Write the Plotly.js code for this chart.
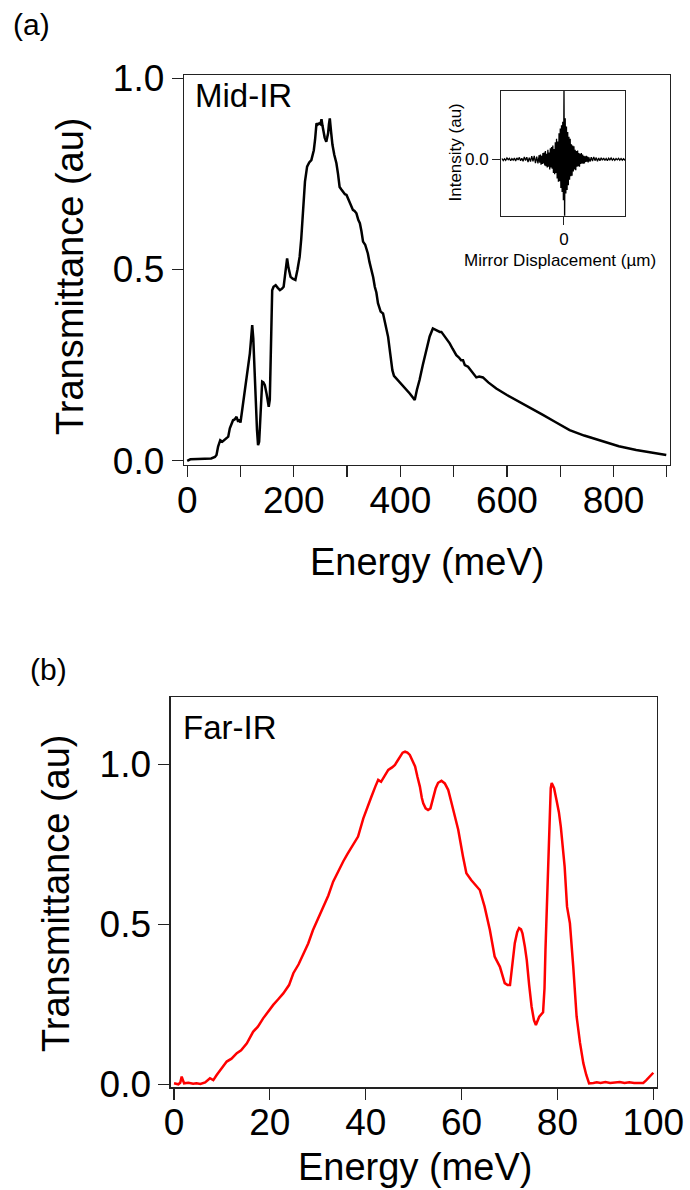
<!DOCTYPE html>
<html>
<head>
<meta charset="utf-8">
<script src="https://cdn.plot.ly/plotly-3.0.1.min.js"></script>
<style>html,body{margin:0;padding:0;background:#fff;}#chart{width:690px;height:1190px;}</style>
</head>
<body>
<div id="chart"></div>
<script>
// ---- Mid-IR transmittance (panel a) ----
const midEnergy = [0,6,20,45,52,55,58,62,66,70,74,77,80,83,86,89,92.6,95.7,98,100,104,108,111,114,117.6,120,122,124,125.5,127,129,131,133,135,136.5,138,140.7,143,145.7,149,153,155,156,158,159.5,162,166,170,174,178,181,184,187.5,190,194,198,203,207,211,214,217.5,221,225,229,233,237.6,240,242.6,245,247.5,250,252,254,255,258,261,263,264.4,266,267.6,270,272.6,276,280,283,286,289,292.6,296,299,302,305,308,311,314,317.6,321,324,327,330,334,339,342,345.8,349,352,355,358,361,363,367.5,371,374,377,381,385,388,392.6,398,405,411,417.6,422,427,431,436,442,449,455,461,466,470,474,477,482,487,492.6,498,505,510,514,517.6,521,527,531,536,542.6,548,555,565,580,600,624,645,667.5,690,717.6,745,780,810,842.6,870,899];
const midTrans = [0,0.004,0.005,0.006,0.01,0.015,0.037,0.054,0.05,0.054,0.058,0.063,0.085,0.095,0.106,0.108,0.115,0.102,0.108,0.1,0.141,0.175,0.202,0.24,0.281,0.32,0.355,0.32,0.26,0.2,0.15,0.08,0.041,0.05,0.09,0.15,0.207,0.205,0.198,0.175,0.141,0.16,0.237,0.35,0.446,0.455,0.459,0.452,0.446,0.45,0.455,0.49,0.529,0.505,0.481,0.476,0.473,0.5,0.533,0.58,0.656,0.73,0.769,0.78,0.786,0.812,0.84,0.882,0.879,0.882,0.88,0.893,0.875,0.865,0.845,0.834,0.845,0.856,0.88,0.895,0.86,0.826,0.8,0.778,0.75,0.716,0.71,0.703,0.697,0.695,0.685,0.673,0.667,0.656,0.653,0.647,0.63,0.621,0.6,0.573,0.565,0.542,0.52,0.499,0.48,0.455,0.44,0.412,0.4,0.39,0.385,0.36,0.34,0.324,0.28,0.237,0.222,0.215,0.207,0.198,0.188,0.176,0.168,0.159,0.185,0.211,0.25,0.29,0.325,0.346,0.342,0.338,0.337,0.337,0.328,0.317,0.307,0.293,0.276,0.27,0.263,0.263,0.25,0.246,0.238,0.228,0.218,0.22,0.218,0.205,0.189,0.172,0.154,0.137,0.12,0.102,0.08,0.066,0.05,0.038,0.028,0.021,0.015];

// ---- Far-IR transmittance (panel b) ----
const farEnergy = [0,0.9,1.3,1.6,2.1,3,4,4.7,5.5,6.5,7.5,8.2,8.9,10,11,12,13.1,14,15.2,16.5,17.5,18.6,19.5,20.7,21.7,22.8,24,24.9,26,27,28,29,30,31.1,32.2,33.2,34.2,35.3,36.2,37.1,38.4,39.5,40.3,41.2,42,42.6,43.2,43.7,44.7,45.5,46.1,46.6,47.1,47.7,48.2,48.7,49.2,49.8,50.3,50.8,51.3,51.7,52,52.5,53,53.5,54.1,54.6,55.1,55.8,56.5,57.2,57.8,58.3,59.3,60.3,61,62,62.9,63.8,64.8,65.9,66.9,68,69,69.6,70.1,70.5,71.1,71.6,72,72.4,72.7,73.2,73.6,74.1,74.6,75.1,75.5,75.9,76.2,77,77.3,77.5,77.7,78,78.3,78.6,78.8,79.3,79.8,80.3,80.7,81.1,81.5,82,82.6,83.3,84,84.7,85.4,86,86.6,87.5,88.2,89,90,91,92,93,94,95,96,97,97.9,98.5,98.9,99.5,100];
const farTrans = [0.003,0,0.005,0.024,0.003,0.005,0.002,0.003,0.001,0.006,0.019,0.013,0.029,0.05,0.071,0.08,0.097,0.106,0.128,0.164,0.18,0.206,0.225,0.248,0.265,0.284,0.31,0.347,0.375,0.409,0.44,0.482,0.515,0.555,0.59,0.633,0.665,0.696,0.72,0.743,0.774,0.831,0.865,0.899,0.93,0.951,0.945,0.956,0.982,0.99,0.998,1.01,1.024,1.036,1.039,1.036,1.029,1.012,0.993,0.96,0.93,0.895,0.878,0.862,0.857,0.862,0.899,0.925,0.942,0.948,0.94,0.92,0.885,0.857,0.795,0.711,0.659,0.638,0.623,0.607,0.555,0.482,0.399,0.367,0.316,0.31,0.31,0.36,0.441,0.475,0.488,0.484,0.472,0.43,0.388,0.31,0.243,0.2,0.185,0.2,0.211,0.225,0.3,0.42,0.524,0.69,0.836,0.925,0.941,0.925,0.888,0.85,0.805,0.75,0.68,0.555,0.503,0.367,0.211,0.13,0.066,0.03,0.003,0.004,0.006,0.004,0.007,0.004,0.006,0.007,0.004,0.006,0.004,0.005,0.004,0.012,0.019,0.027,0.036];

// ---- Inset interferogram ----
const ifgDisp = [-50,-49,-48,-47,-46,-45,-44,-43,-42,-41,-40,-39,-38,-37,-36,-35,-34,-33,-32,-31,-30,-29,-28,-27,-26,-25,-24,-23,-22,-21,
  -20,-19.5,-19,-18.5,-18,-17.5,-17,-16.5,-16,-15.5,-15,-14.5,-14,-13.5,-13,-12.5,-12,-11.5,-11,-10.5,-10,-9.5,-9,-8.5,-8,-7.5,-7,-6.5,-6,-5.5,-5,-4.5,-4,-3.5,-3,-2.5,-2,-1.5,-1,-0.5,
  0,0.5,1,1.5,2,2.5,3,3.5,4,4.5,5,5.5,6,6.5,7,7.5,8,8.5,9,9.5,10,10.5,11,11.5,12,12.5,13,13.5,14,14.5,15,15.5,16,16.5,17,17.5,18,18.5,19,19.5,20,
  21,22,23,24,25,26,27,28,29,30,31,32,33,34,35,36,37,38,39,40,41,42,43,44,45,46,47,48,49,50];
const ifgIntensity = [0.012,-0.018,0.008,-0.015,0.02,-0.006,0.014,-0.022,0.01,-0.012,0.018,-0.025,0.02,-0.01,0.028,-0.02,0.015,-0.03,0.035,-0.018,0.03,-0.04,0.025,-0.035,0.045,-0.03,0.05,-0.055,0.04,-0.06,
  0.06,-0.05,0.07,-0.08,0.05,-0.07,0.09,-0.06,0.1,-0.09,0.12,-0.1,0.08,-0.12,0.14,-0.11,0.1,-0.15,0.16,-0.12,0.18,-0.14,0.2,-0.2,0.15,-0.22,0.25,-0.2,0.3,-0.28,0.26,-0.33,0.38,-0.32,0.45,-0.42,0.5,-0.48,0.55,-0.6,
  1.05,-0.9,0.6,-0.5,0.48,-0.45,0.4,-0.38,0.33,-0.3,0.3,-0.25,0.22,-0.24,0.2,-0.18,0.19,-0.15,0.14,-0.16,0.12,-0.11,0.13,-0.1,0.09,-0.11,0.08,-0.07,0.09,-0.06,0.07,-0.065,0.05,-0.06,0.045,-0.04,0.05,-0.035,0.04,-0.045,0.03,
  -0.035,0.03,-0.025,0.035,-0.02,0.025,-0.03,0.018,-0.02,0.022,-0.015,0.02,-0.018,0.012,-0.02,0.015,-0.01,0.018,-0.012,0.01,-0.015,0.012,-0.008,0.014,-0.012,0.01,-0.014,0.008,-0.01,0.012];

// ---- tick labels ----
const midTickVals = [0,100,200,300,400,500,600,700,800,900];
const midTickText = ['0','','200','','400','','600','','800',''];
const farTickVals = [0,20,40,60,80,100];
const farTickText = ['0','20','40','60','80','100'];
const transTickVals = [0,0.5,1.0];
const transTickText = ['0.0','0.5','1.0'];

const FONT = 'Liberation Sans, Arial, Helvetica, sans-serif';
const LC = '#222';

function ax(extra){
  return Object.assign({
    showline:true, mirror:true, linecolor:LC, linewidth:1.3,
    ticks:'outside', ticklen:11, tickwidth:1.2, tickcolor:LC,
    showgrid:false, zeroline:false, fixedrange:true,
    tickfont:{family:FONT, size:37, color:'#000'}
  }, extra);
}

const traces = [
  {x:midEnergy, y:midTrans, type:'scatter', mode:'lines', xaxis:'x', yaxis:'y',
   line:{color:'#000', width:2.5}},
  {x:farEnergy, y:farTrans, type:'scatter', mode:'lines', xaxis:'x2', yaxis:'y2',
   line:{color:'#ff0000', width:2.5}},
  {x:ifgDisp, y:ifgIntensity, type:'scatter', mode:'lines', xaxis:'x3', yaxis:'y3',
   line:{color:'#000', width:1.3}}
];

const layout = {
  width:690, height:1190,
  margin:{l:0,r:0,t:0,b:0},
  paper_bgcolor:'#fff', plot_bgcolor:'rgba(0,0,0,0)',
  showlegend:false,
  font:{family:FONT, color:'#000'},
  xaxis: ax({domain:[184/690, 670/690], range:[-6,906], anchor:'y', ticklabelstandoff:-9,
    tickmode:'array', tickvals:midTickVals, ticktext:midTickText}),
  yaxis: ax({domain:[(1190-465)/1190, (1190-75)/1190], range:[-0.011,1.0086], anchor:'x',
    tickmode:'array', tickvals:transTickVals, ticktext:transTickText}),
  xaxis2: ax({domain:[170.7/690, 657/690], range:[-0.69,100.77], anchor:'y2', ticklabelstandoff:-9,
    tickmode:'array', tickvals:farTickVals, ticktext:farTickText}),
  yaxis2: ax({domain:[(1190-1087.3)/1190, (1190-697.3)/1190], range:[-0.0094,1.209], anchor:'x2',
    tickmode:'array', tickvals:transTickVals, ticktext:transTickText}),
  xaxis3: ax({domain:[501/690, 625/690], range:[-50.8,49.2], anchor:'y3',
    ticklen:8, tickwidth:1, linewidth:1,
    tickmode:'array', tickvals:[0], ticktext:['0'], tickfont:{family:FONT,size:17,color:'#000'}}),
  yaxis3: ax({domain:[(1190-215.7)/1190, (1190-91)/1190], range:[-0.826,1.0], anchor:'x3',
    ticklen:8, tickwidth:1, linewidth:1,
    tickmode:'array', tickvals:[0], ticktext:['0.0'], tickfont:{family:FONT,size:17,color:'#000'}}),
  annotations:[
    {text:'(a)', x:31/690, y:(1190-24)/1190, xref:'paper', yref:'paper', xanchor:'center', yanchor:'middle', showarrow:false, font:{family:FONT,size:30,color:'#000'}},
    {text:'(b)', x:48/690, y:(1190-669)/1190, xref:'paper', yref:'paper', xanchor:'center', yanchor:'middle', showarrow:false, font:{family:FONT,size:30,color:'#000'}},
    {text:'Mid-IR', x:193/690, y:(1190-95)/1190, xref:'paper', yref:'paper', xanchor:'left', yanchor:'middle', showarrow:false, font:{family:FONT,size:33,color:'#000'}},
    {text:'Far-IR', x:181/690, y:(1190-727)/1190, xref:'paper', yref:'paper', xanchor:'left', yanchor:'middle', showarrow:false, font:{family:FONT,size:33,color:'#000'}},
    {text:'Energy (meV)', x:426.7/690, y:(1190-561.7)/1190, xref:'paper', yref:'paper', xanchor:'center', yanchor:'middle', showarrow:false, font:{family:FONT,size:38,color:'#000'}},
    {text:'Energy (meV)', x:415/690, y:(1190-1166.7)/1190, xref:'paper', yref:'paper', xanchor:'center', yanchor:'middle', showarrow:false, font:{family:FONT,size:38,color:'#000'}},
    {text:'Transmittance (au)', x:70/690, y:(1190-277)/1190, xref:'paper', yref:'paper', xanchor:'center', yanchor:'middle', textangle:-90, showarrow:false, font:{family:FONT,size:38,color:'#000'}},
    {text:'Transmittance (au)', x:56/690, y:(1190-894)/1190, xref:'paper', yref:'paper', xanchor:'center', yanchor:'middle', textangle:-90, showarrow:false, font:{family:FONT,size:38,color:'#000'}},
    {text:'Intensity (au)', x:455/690, y:(1190-152.5)/1190, xref:'paper', yref:'paper', xanchor:'center', yanchor:'middle', textangle:-90, showarrow:false, font:{family:FONT,size:17,color:'#000'}},
    {text:'Mirror Displacement (µm)', x:560/690, y:(1190-260)/1190, xref:'paper', yref:'paper', xanchor:'center', yanchor:'middle', showarrow:false, font:{family:FONT,size:17,color:'#000'}}
  ]
};

Plotly.newPlot('chart', traces, layout, {staticPlot:true, displayModeBar:false});
</script>
</body>
</html>
